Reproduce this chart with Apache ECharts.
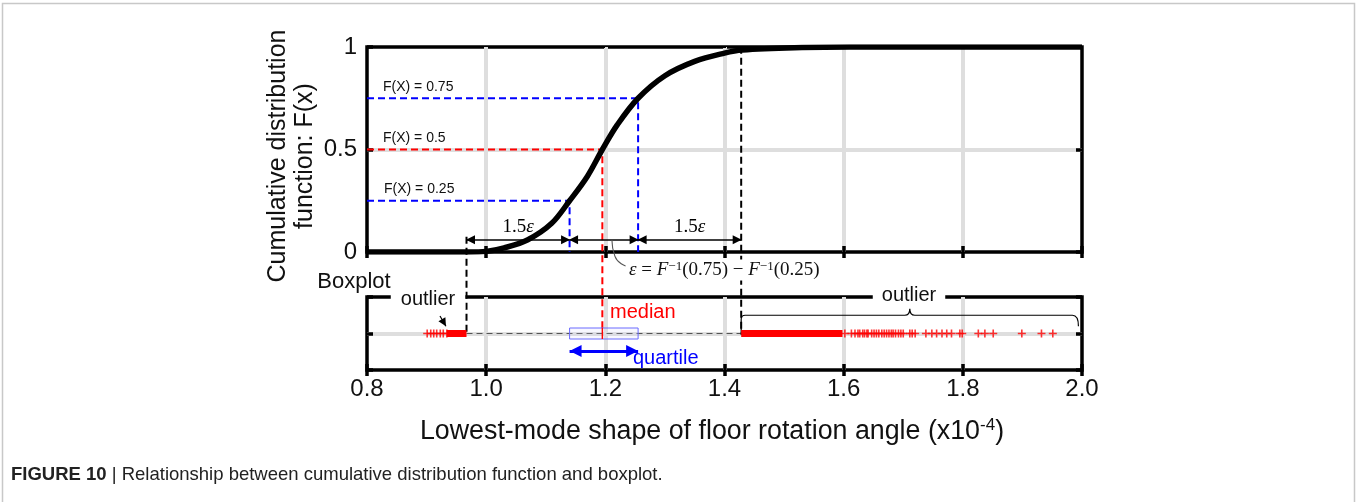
<!DOCTYPE html>
<html>
<head>
<meta charset="utf-8">
<script src="https://cdn.jsdelivr.net/npm/echarts@6/dist/echarts.min.js"></script>
<style>
html, body { margin: 0; padding: 0; background: #fff; }
#main { width: 1357px; height: 502px; }
</style>
</head>
<body>
<div id="main"></div>
<script>
// CDF (x in units of 1e-4)
var cdfX = [0.80, 0.97, 1.00, 1.03, 1.07, 1.11, 1.14, 1.17, 1.195, 1.22, 1.255, 1.30, 1.35, 1.40, 1.43, 1.53, 1.61, 2.00];
var cdfF = [0, 0, 0.003, 0.02, 0.06, 0.14, 0.25, 0.37, 0.50, 0.62, 0.75, 0.86, 0.93, 0.97, 0.985, 0.997, 1.0, 1.0];

// Q1, median, Q3 and the 1.5*eps fences
var quartiles = [1.14, 1.195, 1.255];
var fences = [0.967, 1.428];

// outliers (single crosses) and the dense runs drawn as solid bars
var lowOutliers = [0.901, 0.907, 0.912, 0.917, 0.923, 0.928, 0.934];
var lowDense = [0.934, 0.967];
var highDense = [1.428, 1.598];
var highOutliers = [1.602, 1.613, 1.619, 1.624, 1.627, 1.632, 1.635, 1.639, 1.641, 1.647, 1.651, 1.655,
  1.659, 1.664, 1.668, 1.672, 1.676, 1.680, 1.683, 1.687, 1.692, 1.696, 1.700, 1.711, 1.715, 1.720,
  1.738, 1.748, 1.756, 1.765, 1.773, 1.781, 1.795, 1.799, 1.826, 1.837, 1.851, 1.899, 1.932, 1.951];
var braceEnd = 1.994;

var xTickLabels = ['0.8', '1.0', '1.2', '1.4', '1.6', '1.8', '2.0'];
var yTickLabels = ['0', '0.5', '1'];

var FONT = '"Liberation Sans", Arial, sans-serif';
var SERIF = '"Liberation Serif", "Times New Roman", serif';

// layout of the two panels
var G0 = { left: 367, top: 47, width: 715, height: 205 };
var G1 = { left: 367, top: 297, width: 715, height: 73 };
// boxplot centre line / box top expressed in F units of the upper panel
var BOX_F = (G0.top + G0.height - (G1.top + G1.height / 2)) / G0.height;
var BOX_TOP_F = (G0.top + G0.height - (G1.top + G1.height / 2 - 5.5)) / G0.height;
var ARROW_F = 0.06;

var chart = echarts.init(document.getElementById('main'));

function xAxisFor(grid, pos, labels, split) {
  return {
    type: 'value', gridIndex: grid, position: pos, min: 0.8, max: 2.0, interval: 0.2,
    axisLine: { show: false },
    axisTick: { show: true, inside: true, length: 6, lineStyle: { color: '#000', width: 3.5 } },
    axisLabel: {
      show: labels, margin: 7, fontSize: 24, fontFamily: FONT, color: '#111',
      formatter: function (v) { return xTickLabels[Math.round((v - 0.8) / 0.2)]; }
    },
    splitLine: { show: split, showMinLine: false, showMaxLine: false, lineStyle: { color: '#dedede', width: 4 } }
  };
}

function yAxisFor(grid, pos, labels, split) {
  return {
    type: 'value', gridIndex: grid, position: pos, min: 0, max: 1, interval: 0.5,
    axisLine: { show: false },
    axisTick: { show: true, inside: true, length: 6, lineStyle: { color: '#000', width: 3.5 } },
    axisLabel: {
      show: labels, margin: 10, fontSize: 24, fontFamily: FONT, color: '#111',
      formatter: function (v) { return yTickLabels[Math.round(v * 2)]; }
    },
    splitLine: { show: split, showMinLine: false, showMaxLine: false, lineStyle: { color: '#dedede', width: 4 } }
  };
}

function guide(points, color) {
  return {
    type: 'line', xAxisIndex: 0, yAxisIndex: 0, data: points, clip: false,
    symbol: 'none', silent: true, z: 3,
    lineStyle: { color: color, width: 2, type: [7, 4] }
  };
}

function pairs(xs, ys) {
  return xs.map(function (x, i) { return [x, ys[i]]; });
}

var crossPath = 'path://M4,0H6V4H10V6H6V10H4V6H0V4H4Z';

var option = {
  animation: false,
  backgroundColor: '#fff',
  grid: [
    { left: G0.left, top: G0.top, width: G0.width, height: G0.height, show: true, borderColor: '#000', borderWidth: 3.5 },
    { left: G1.left, top: G1.top, width: G1.width, height: G1.height, show: true, borderColor: '#000', borderWidth: 3.5 }
  ],
  xAxis: [
    xAxisFor(0, 'bottom', false, true),
    xAxisFor(0, 'top', false, false),
    xAxisFor(1, 'bottom', true, true),
    xAxisFor(1, 'top', false, false)
  ],
  yAxis: [
    yAxisFor(0, 'left', true, true),
    yAxisFor(0, 'right', false, false),
    yAxisFor(1, 'left', false, true),
    yAxisFor(1, 'right', false, false)
  ],
  series: [
    guide([[0.8, 1], [fences[1], 1], [fences[1], BOX_F]], '#000'),
    guide([[fences[0], ARROW_F + 0.015], [fences[0], BOX_F]], '#000'),
    guide([[0.8, 0.5], [quartiles[1], 0.5], [quartiles[1], BOX_TOP_F]], '#ff0000'),
    guide([[0.8, 0.75], [quartiles[2], 0.75], [quartiles[2], 0]], '#0000ff'),
    guide([[0.8, 0.25], [quartiles[0], 0.25], [quartiles[0], 0]], '#0000ff'),
    {
      // the CDF itself
      type: 'line', xAxisIndex: 0, yAxisIndex: 0, data: pairs(cdfX, cdfF),
      smooth: 0.35, symbol: 'none', z: 5,
      lineStyle: { color: '#000', width: 5.5 }
    },
    {
      // 1.5eps / eps / 1.5eps arrows
      type: 'line', xAxisIndex: 0, yAxisIndex: 0, data: [], clip: false,
      markLine: {
        silent: true, animation: false,
        symbol: ['triangle', 'triangle'], symbolSize: 9, symbolOffset: [[0, 4], [0, 4]],
        lineStyle: { color: '#000', width: 1.5, type: 'solid' },
        label: {
          show: true, position: 'middle', distance: 3, formatter: '1.5{i|ε}',
          fontFamily: SERIF, fontSize: 19, color: '#000',
          rich: { i: { fontFamily: SERIF, fontSize: 19, fontStyle: 'italic', color: '#000' } }
        },
        data: [
          [{ coord: [fences[0], ARROW_F] }, { coord: [quartiles[0], ARROW_F] }],
          [{ coord: [quartiles[0], ARROW_F], label: { show: false } }, { coord: [quartiles[2], ARROW_F] }],
          [{ coord: [quartiles[2], ARROW_F] }, { coord: [fences[1], ARROW_F] }]
        ]
      }
    },
    {
      // leader line to the eps formula
      type: 'line', xAxisIndex: 0, yAxisIndex: 0, clip: false, z: 60, silent: true,
      data: [[1.211, ARROW_F], [1.216, -0.02], [1.234, -0.068]],
      smooth: 0.6, symbol: 'none',
      lineStyle: { color: '#555', width: 1.1 }
    },
    {
      // whisker
      type: 'line', xAxisIndex: 2, yAxisIndex: 2, data: [[fences[0], 0.5], [fences[1], 0.5]],
      symbol: 'none', z: 3, lineStyle: { color: '#555', width: 1, type: [6, 4] }
    },
    {
      // box
      type: 'custom', xAxisIndex: 2, yAxisIndex: 2, z: 4,
      data: [[quartiles[0], quartiles[1], quartiles[2]]],
      encode: { x: [0, 1, 2] },
      renderItem: function (params, api) {
        var a = api.coord([api.value(0), 0.5]);
        var m = api.coord([api.value(1), 0.5]);
        var b = api.coord([api.value(2), 0.5]);
        return {
          type: 'group', children: [
            { type: 'rect', shape: { x: a[0], y: a[1] - 5.5, width: b[0] - a[0], height: 11 },
              style: { fill: 'rgba(210,210,255,0.15)', stroke: '#6b6bff', lineWidth: 1 } },
            { type: 'line', shape: { x1: m[0], y1: m[1] - 5.5, x2: m[0], y2: m[1] + 5.5 },
              style: { stroke: '#ff0000', lineWidth: 1.5 } }
          ]
        };
      }
    },
    {
      type: 'line', xAxisIndex: 2, yAxisIndex: 2, data: [[lowDense[0], 0.5], [lowDense[1], 0.5]],
      symbol: 'none', z: 6, lineStyle: { color: '#ff0000', width: 7, cap: 'butt' }
    },
    {
      type: 'line', xAxisIndex: 2, yAxisIndex: 2, data: [[highDense[0], 0.5], [highDense[1], 0.5]],
      symbol: 'none', z: 6, lineStyle: { color: '#ff0000', width: 7, cap: 'butt' }
    },
    {
      type: 'scatter', xAxisIndex: 2, yAxisIndex: 2, z: 6,
      data: lowOutliers.concat(highOutliers).map(function (v) { return [v, 0.5]; }),
      symbol: crossPath, symbolSize: 8, itemStyle: { color: '#ff0000' }
    },
    {
      // curly brace over the upper outliers
      type: 'custom', xAxisIndex: 2, yAxisIndex: 2, z: 6, clip: false,
      data: [[fences[1], braceEnd]],
      encode: { x: [0, 1] },
      renderItem: function (params, api) {
        var a = api.coord([api.value(0), 0.75]);
        var b = api.coord([api.value(1), 0.75]);
        var lowA = api.coord([0, 0.48])[1];
        var lowB = api.coord([0, 0.6])[1];
        var tip = api.coord([0, 0.84])[1];
        var y = a[1], m = (a[0] + b[0]) / 2;
        var d = 'M' + a[0] + ',' + lowA + ' L' + a[0] + ',' + (y + 4) +
          ' Q' + a[0] + ',' + y + ' ' + (a[0] + 4) + ',' + y +
          ' L' + (m - 5) + ',' + y + ' Q' + m + ',' + y + ' ' + m + ',' + tip +
          ' Q' + m + ',' + y + ' ' + (m + 5) + ',' + y +
          ' L' + (b[0] - 6) + ',' + y + ' Q' + b[0] + ',' + y + ' ' + b[0] + ',' + lowB;
        return { type: 'path', shape: { pathData: d }, style: { stroke: '#000', fill: 'none', lineWidth: 1.2 } };
      }
    },
    {
      // quartile arrow
      type: 'line', xAxisIndex: 2, yAxisIndex: 2, data: [], clip: false,
      markLine: {
        silent: true, animation: false,
        symbol: ['triangle', 'triangle'], symbolSize: 12, symbolOffset: [[0, 6], [0, 6]],
        lineStyle: { color: '#0000ff', width: 3, type: 'solid' },
        label: { show: false },
        data: [[{ coord: [quartiles[0], 0.26] }, { coord: [quartiles[2], 0.26] }]]
      }
    },
    {
      // small pointer to the lower outliers
      type: 'line', xAxisIndex: 2, yAxisIndex: 2, data: [], clip: false,
      markLine: {
        silent: true, animation: false,
        symbol: ['none', 'triangle'], symbolSize: 8, symbolOffset: [[0, 0], [0, 4]],
        lineStyle: { color: '#000', width: 1.2, type: 'solid' },
        label: { show: false },
        data: [[{ coord: [0.9225, 0.74] }, { coord: [0.9325, 0.6] }]]
      }
    }
  ],
  graphic: [
    { type: 'rect', shape: { x: 2.5, y: 3.5, width: 1352, height: 540 }, style: { fill: 'none', stroke: '#c8c8c8', lineWidth: 1.5 }, silent: true },
    { type: 'text', x: 292, y: 156, rotation: Math.PI / 2,
      style: { text: 'Cumulative distribution\nfunction: F(x)', fontSize: 25, fontFamily: FONT, fill: '#111',
        align: 'center', verticalAlign: 'middle', textAlign: 'center', textVerticalAlign: 'middle', lineHeight: 27 } },
    { type: 'text', x: 354, y: 282,
      style: { text: 'Boxplot', fontSize: 22, fontFamily: FONT, fill: '#111', align: 'center', verticalAlign: 'middle', textAlign: 'center', textVerticalAlign: 'middle' } },
    { type: 'text', x: 428, y: 299, z: 100,
      style: { text: 'outlier', fontSize: 20, fontFamily: FONT, fill: '#111', backgroundColor: '#fff', padding: [0, 10],
        align: 'center', verticalAlign: 'middle', textAlign: 'center', textVerticalAlign: 'middle' } },
    { type: 'text', x: 909, y: 295, z: 100,
      style: { text: 'outlier', fontSize: 20, fontFamily: FONT, fill: '#111', backgroundColor: '#fff', padding: [0, 9],
        align: 'center', verticalAlign: 'middle', textAlign: 'center', textVerticalAlign: 'middle' } },
    { type: 'text', x: 610, y: 312,
      style: { text: 'median', fontSize: 20, fontFamily: FONT, fill: '#ff0000', align: 'left', verticalAlign: 'middle', textAlign: 'left', textVerticalAlign: 'middle' } },
    { type: 'text', x: 633, y: 358,
      style: { text: 'quartile', fontSize: 20, fontFamily: FONT, fill: '#0000ff', align: 'left', verticalAlign: 'middle', textAlign: 'left', textVerticalAlign: 'middle' } },
    { type: 'text', x: 383, y: 87,
      style: { text: 'F(X) = 0.75', fontSize: 14, fontFamily: FONT, fill: '#111', align: 'left', verticalAlign: 'middle', textAlign: 'left', textVerticalAlign: 'middle' } },
    { type: 'text', x: 383, y: 138,
      style: { text: 'F(X) = 0.5', fontSize: 14, fontFamily: FONT, fill: '#111', align: 'left', verticalAlign: 'middle', textAlign: 'left', textVerticalAlign: 'middle' } },
    { type: 'text', x: 384, y: 189,
      style: { text: 'F(X) = 0.25', fontSize: 14, fontFamily: FONT, fill: '#111', align: 'left', verticalAlign: 'middle', textAlign: 'left', textVerticalAlign: 'middle' } },
    { type: 'text', x: 628, y: 270, z: 50,
      style: { text: '{i|ε} = {i|F}{s|−1}(0.75) − {i|F}{s|−1}(0.25)', fontSize: 19, fontFamily: SERIF, fill: '#111',
        backgroundColor: '#fff', padding: [1, 1],
        align: 'left', verticalAlign: 'middle', textAlign: 'left', textVerticalAlign: 'middle',
        rich: {
          i: { fontSize: 19, fontFamily: SERIF, fontStyle: 'italic', fill: '#111' },
          s: { fontSize: 13, fontFamily: SERIF, fill: '#111', verticalAlign: 'top' }
        } } },
    { type: 'text', x: 712, y: 432,
      style: { text: 'Lowest-mode shape of floor rotation angle (x10{s|-4})', fontSize: 26.8, fontFamily: FONT, fill: '#111',
        align: 'center', verticalAlign: 'middle', textAlign: 'center', textVerticalAlign: 'middle', lineHeight: 30,
        rich: { s: { fontSize: 17, fontFamily: FONT, fill: '#111', verticalAlign: 'top' } } } },
    { type: 'text', x: 11, y: 475,
      style: { text: '{b|FIGURE 10} | Relationship between cumulative distribution function and boxplot.', fontSize: 18.5, fontFamily: FONT, fill: '#222',
        align: 'left', verticalAlign: 'middle', textAlign: 'left', textVerticalAlign: 'middle',
        rich: { b: { fontSize: 18.5, fontFamily: FONT, fontWeight: 'bold', fill: '#222' } } } }
  ]
};

chart.setOption(option);
</script>
</body>
</html>
